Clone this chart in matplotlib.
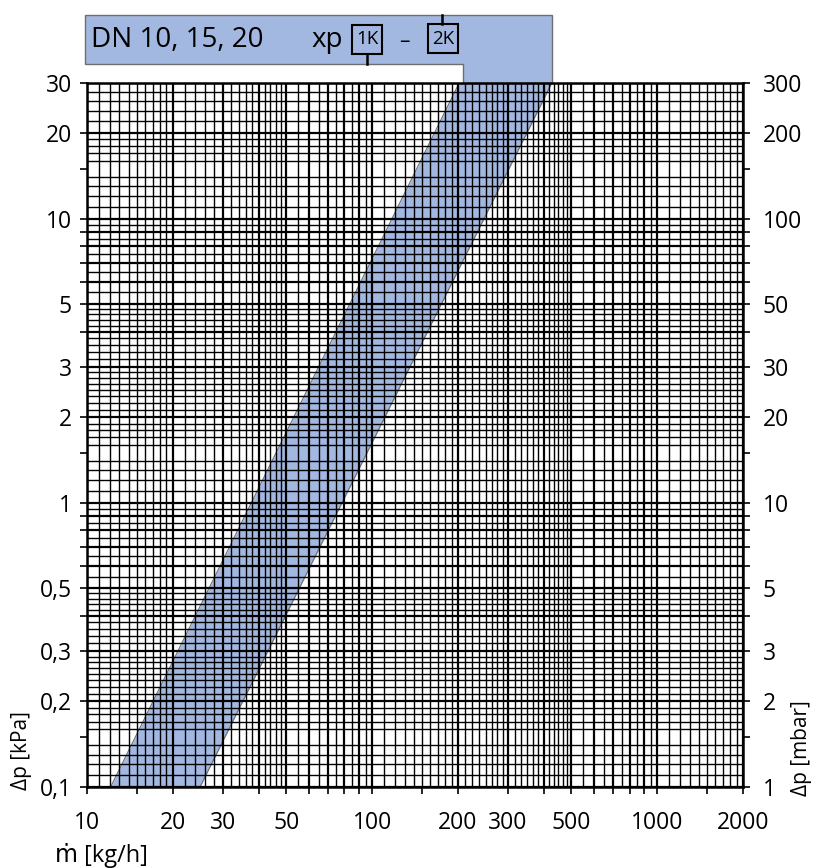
import matplotlib
matplotlib.use("Agg")
import matplotlib.pyplot as plt
from matplotlib.patches import Polygon, Rectangle
from matplotlib.lines import Line2D

plt.rcParams['font.family'] = ['Open Sans', 'DejaVu Sans']

# band edges (Δp in kPa, mass flow in kg/h)
dp_kpa = [0.1, 30]
m_1k = [12.1, 202]
m_2k = [24.9, 427]

# grid of the log paper
x_major = [10, 20, 30, 40, 50, 60, 70, 80, 90, 100,
           200, 300, 400, 500, 600, 700, 800, 900, 1000, 2000]
x_minor = [11, 12, 13, 14, 15, 16, 17, 18, 19,
           22, 24, 26, 28, 32, 34, 36, 38, 42, 44, 46, 48,
           55, 65, 75, 85, 95,
           110, 120, 130, 140, 150, 160, 170, 180, 190,
           212.5, 225, 237.5, 250, 262.5, 275, 287.5,
           316.7, 333.3, 350, 366.7, 383.3,
           416.7, 433.3, 450, 466.7, 483.3,
           550, 650, 750, 850, 950,
           1100, 1200, 1300, 1400, 1500, 1600, 1700, 1800, 1900]
y_major = [0.1, 0.2, 0.3, 0.4, 0.5, 0.6, 0.7, 0.8, 0.9,
           1, 2, 3, 4, 5, 6, 7, 8, 9, 10, 20, 30]
y_minor = [0.11, 0.12, 0.13, 0.14, 0.16, 0.17, 0.18, 0.19,
           0.2125, 0.225, 0.2375, 0.25, 0.2625, 0.275, 0.2875,
           0.32, 0.34, 0.36, 0.38, 0.42, 0.44, 0.46, 0.48,
           0.55, 0.65, 0.75, 0.85, 0.95,
           1.1, 1.2, 1.3, 1.4, 1.6, 1.7, 1.8, 1.9,
           2.125, 2.25, 2.375, 2.5, 2.625, 2.75, 2.875,
           3.2, 3.4, 3.6, 3.8, 4.2, 4.4, 4.6, 4.8,
           5.5, 6.5, 7.5, 8.5, 9.5,
           11, 12, 13, 14, 16, 17, 18, 19,
           22, 24, 26, 28]

x_ticks = [10, 15, 20, 30, 40, 50, 60, 70, 80, 90, 100, 150,
           200, 300, 400, 500, 600, 700, 800, 900, 1000, 1500, 2000]
x_labeled = [10, 20, 30, 50, 100, 200, 300, 500, 1000, 2000]

y_ticks = [0.1, 0.15, 0.2, 0.3, 0.4, 0.5, 0.6, 0.7, 0.8, 0.9,
           1, 1.5, 2, 3, 4, 5, 6, 7, 8, 9, 10, 15, 20, 30]
y_labeled = [0.1, 0.2, 0.3, 0.5, 1, 2, 3, 5, 10, 20, 30]
y_left_text = ['0,1', '0,2', '0,3', '0,5', '1', '2', '3', '5', '10', '20', '30']
y_right_text = ['1', '2', '3', '5', '10', '20', '30', '50', '100', '200', '300']

W, H = 815, 868
fig = plt.figure(figsize=(W / 100, H / 100), dpi=100)
ax = fig.add_axes([87 / W, 1 - 787 / H, 656 / W, 704 / H])
ax.set_xscale('log')
ax.set_yscale('log')

band_col = '#a2b8e0'
edge_col = '#6f6f6f'

ax.fill_betweenx(dp_kpa, m_1k, m_2k, color=band_col, lw=0, zorder=1)
ax.plot(m_1k, dp_kpa, color=edge_col, lw=0.8, zorder=1.5)
ax.plot(m_2k, dp_kpa, color=edge_col, lw=0.8, zorder=1.5)

for v in x_minor:
    ax.axvline(v, color='black', lw=1.0, zorder=2)
for v in x_major:
    ax.axvline(v, color='black', lw=1.6, zorder=2)
for v in y_minor:
    ax.axhline(v, color='black', lw=1.0, zorder=2)
for v in y_major:
    ax.axhline(v, color='black', lw=1.6, zorder=2)

ax.set_xlim(10, 2000)
ax.set_ylim(0.1, 30)

ax.set_xticks(x_ticks)
ax.set_xticklabels([str(v) if v in x_labeled else '' for v in x_ticks])
ax.set_yticks(y_ticks)
ax.set_yticklabels([y_left_text[y_labeled.index(v)] if v in y_labeled else ''
                    for v in y_ticks])
ax.minorticks_off()
ax.tick_params(axis='both', direction='out', length=5, width=1.2,
               labelsize=16.5, colors='black')
ax.tick_params(axis='x', pad=12.5)
ax.tick_params(axis='y', pad=6)
for s in ax.spines.values():
    s.set_linewidth(1.8)
    s.set_zorder(3)

ax2 = ax.twinx()
ax2.set_yscale('log')
ax2.set_ylim(1, 300)
ax2.set_yticks([v * 10 for v in y_ticks])
ax2.set_yticklabels([y_right_text[y_labeled.index(v)] if v in y_labeled else ''
                     for v in y_ticks])
ax2.minorticks_off()
ax2.tick_params(axis='y', direction='out', length=5, width=1.2,
                labelsize=16.5, pad=9)
for s in ax2.spines.values():
    s.set_visible(False)


def px(x, y):
    return (x / W, 1 - y / H)


# header box, joined to the top of the band
hdr = [px(85, 15), px(551.7, 15), px(551.7, 82.5), px(462.7, 82.5),
       px(462.7, 64), px(85, 64)]
ax.add_patch(Polygon(hdr, closed=True, facecolor=band_col, edgecolor=edge_col,
                     lw=1.0, transform=fig.transFigure, clip_on=False, zorder=1))

fig.text(*px(91, 40), 'DN 10, 15, 20', fontsize=20, ha='left', va='center')
fig.text(*px(311, 40), 'xp', fontsize=20, ha='left', va='center')
fig.text(*px(404, 41), '–', fontsize=15, ha='center', va='center')

for (x0, x1, y0, y1, lab) in [(351.7, 382.3, 25, 54, '1K'),
                              (428.3, 458.3, 24.3, 53.3, '2K')]:
    (fx0, fy1) = px(x0, y1)
    (fx1, fy0) = px(x1, y0)
    fig.add_artist(Rectangle((fx0, fy1), fx1 - fx0, fy0 - fy1, fill=False,
                             edgecolor='black', lw=1.5,
                             transform=fig.transFigure))
    fig.text((fx0 + fx1) / 2, (fy0 + fy1) / 2, lab, fontsize=13.5,
             ha='center', va='center')
fig.add_artist(Line2D(*zip(px(367.3, 54), px(367.3, 64)), color='black',
                      lw=1.8, transform=fig.transFigure))
fig.add_artist(Line2D(*zip(px(442.3, 15), px(442.3, 24.3)), color='black',
                      lw=1.8, transform=fig.transFigure))

fig.text(*px(21, 751), 'Δp [kPa]', fontsize=15, rotation=90,
         ha='center', va='center')
fig.text(*px(801, 748), 'Δp [mbar]', fontsize=15, rotation=90,
         ha='center', va='center')
fig.text(*px(55, 855), 'ṁ [kg/h]', fontsize=17, ha='left', va='center')

fig.savefig('out.png', dpi=100)
